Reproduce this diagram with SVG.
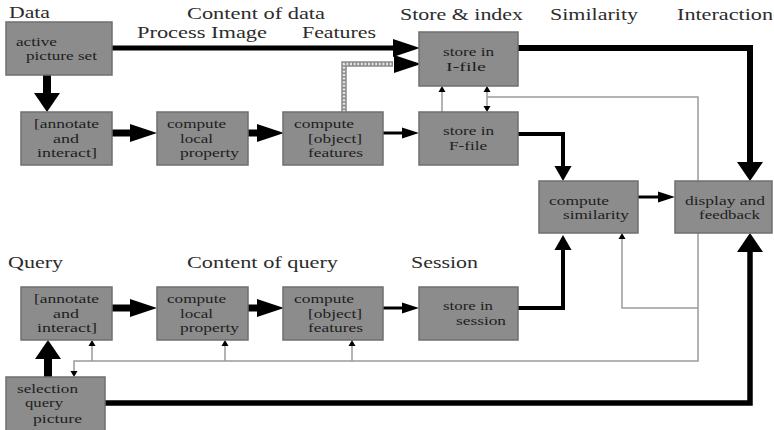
<svg xmlns="http://www.w3.org/2000/svg" width="774" height="430" viewBox="0 0 774 430">
<style>
.bg{fill:#ffffff}
.box{fill:#8c8c8c;stroke:#6f6f6f;stroke-width:1.5}
.hd{font-size:16px;fill:#2c2c2c}
.tx{font-size:13px;fill:#1e1e1e}
.k{fill:none;stroke:#000;stroke-linejoin:miter}
.g{fill:none;stroke:#9a9a9a;stroke-width:1.5}
</style>
<defs>
<marker id="bigh" markerUnits="userSpaceOnUse" markerWidth="27" markerHeight="18" refX="0" refY="9" orient="auto" overflow="visible"><path d="M0,0 L27,9 L0,18 z" fill="#000"/></marker>
<marker id="bigv" markerUnits="userSpaceOnUse" markerWidth="19" markerHeight="26" refX="0" refY="13" orient="auto" overflow="visible"><path d="M0,0 L19,13 L0,26 z" fill="#000"/></marker>
<marker id="med" markerUnits="userSpaceOnUse" markerWidth="15" markerHeight="17" refX="0" refY="8.5" orient="auto" overflow="visible"><path d="M0,0 L15,8.5 L0,17 z" fill="#000"/></marker>
<marker id="sm" markerUnits="userSpaceOnUse" markerWidth="17" markerHeight="11" refX="0" refY="5.5" orient="auto" overflow="visible"><path d="M0,0 L17,5.5 L0,11 z" fill="#000"/></marker>
<marker id="tiny" markerUnits="userSpaceOnUse" markerWidth="6" markerHeight="7" refX="0" refY="3.5" orient="auto-start-reverse" overflow="visible"><path d="M0,0 L6,3.5 L0,7 z" fill="#000"/></marker>
</defs>
<rect class="bg" x="0" y="0" width="774" height="430"/>

<g id="headers" font-family="Liberation Serif, Times New Roman, serif">
<text class="hd" x="9" y="18" textLength="41" lengthAdjust="spacingAndGlyphs">Data</text>
<text class="hd" x="187" y="19" textLength="138" lengthAdjust="spacingAndGlyphs">Content of data</text>
<text class="hd" x="137" y="38" textLength="130" lengthAdjust="spacingAndGlyphs">Process Image</text>
<text class="hd" x="302" y="38" textLength="74" lengthAdjust="spacingAndGlyphs">Features</text>
<text class="hd" x="400" y="20" textLength="123" lengthAdjust="spacingAndGlyphs">Store &amp; index</text>
<text class="hd" x="550" y="20" textLength="88" lengthAdjust="spacingAndGlyphs">Similarity</text>
<text class="hd" x="677" y="20" textLength="96" lengthAdjust="spacingAndGlyphs">Interaction</text>
<text class="hd" x="8" y="268" textLength="55" lengthAdjust="spacingAndGlyphs">Query</text>
<text class="hd" x="187" y="268" textLength="151" lengthAdjust="spacingAndGlyphs">Content of query</text>
<text class="hd" x="411" y="268" textLength="67" lengthAdjust="spacingAndGlyphs">Session</text>
</g>

<g id="connectors">
<path class="k" stroke-width="5" d="M112,48 H393" marker-end="url(#bigh)"/>
<path class="k" stroke-width="6" d="M518,48 H750 V162" marker-end="url(#bigv)"/>
<path class="k" stroke-width="8" d="M47,75 V93" marker-end="url(#bigv)"/>
<path class="k" stroke-width="7" d="M112,133 H130" marker-end="url(#bigh)"/>
<path class="k" stroke-width="7" d="M248,133 H257" marker-end="url(#bigh)"/>
<path class="k" stroke-width="3" d="M383,133 H402" marker-end="url(#sm)"/>
<path class="k" stroke-width="4" d="M518,134 H563 V166" marker-end="url(#med)"/>
<path class="k" stroke-width="3" d="M638,197 H658" marker-end="url(#sm)"/>
<path class="k" stroke-width="7" d="M112,308 H130" marker-end="url(#bigh)"/>
<path class="k" stroke-width="7" d="M248,308 H257" marker-end="url(#bigh)"/>
<path class="k" stroke-width="3" d="M383,308 H402" marker-end="url(#sm)"/>
<path class="k" stroke-width="4" d="M518,308 H563 V250" marker-end="url(#med)"/>
<path class="k" stroke-width="8" d="M48,377 V359" marker-end="url(#bigv)"/>
<path class="k" stroke-width="5.5" d="M105,403 H750 V252" marker-end="url(#bigv)"/>
<path d="M344,112 V64 H393" fill="none" stroke="#8a8a8a" stroke-width="5.5"/>
<path d="M344,112 V64 H393" fill="none" stroke="#e6e6e6" stroke-width="2.5" stroke-dasharray="2,1.6"/>
<path d="M393,64 H394" fill="none" stroke="none" marker-end="url(#bigh)"/>
<path class="g" d="M442,112 V92" marker-end="url(#tiny)"/>
<path class="g" d="M487,92 V106" marker-start="url(#tiny)" marker-end="url(#tiny)"/>
<path class="g" d="M487,97 H698 V181"/>
<path class="g" d="M698,233 V361 H74 V371" marker-end="url(#tiny)"/>
<path class="g" d="M698,308 H622 V239" marker-end="url(#tiny)"/>
<path class="g" d="M92,361 V346" marker-end="url(#tiny)"/>
<path class="g" d="M225,361 V346" marker-end="url(#tiny)"/>
<path class="g" d="M352,361 V346" marker-end="url(#tiny)"/>
</g>

<g id="nodes" font-family="Liberation Serif, Times New Roman, serif">
<g id="active-picture-set">
<rect class="box" x="6" y="22" width="106" height="53"/>
<text class="tx" x="16" y="46" textLength="41" lengthAdjust="spacingAndGlyphs">active</text>
<text class="tx" x="26" y="60" textLength="71" lengthAdjust="spacingAndGlyphs">picture set</text>
</g>
<g id="annotate-data">
<rect class="box" x="21" y="112" width="91" height="53"/>
<text class="tx" x="34" y="128" textLength="65" lengthAdjust="spacingAndGlyphs">[annotate</text>
<text class="tx" x="53" y="143" textLength="26" lengthAdjust="spacingAndGlyphs">and</text>
<text class="tx" x="37" y="157" textLength="60" lengthAdjust="spacingAndGlyphs">interact]</text>
</g>
<g id="local-data">
<rect class="box" x="157" y="112" width="91" height="53"/>
<text class="tx" x="167" y="128" textLength="59" lengthAdjust="spacingAndGlyphs">compute</text>
<text class="tx" x="180" y="143" textLength="33" lengthAdjust="spacingAndGlyphs">local</text>
<text class="tx" x="180" y="157" textLength="59" lengthAdjust="spacingAndGlyphs">property</text>
</g>
<g id="features-data">
<rect class="box" x="283" y="112" width="100" height="53"/>
<text class="tx" x="294" y="128" textLength="60" lengthAdjust="spacingAndGlyphs">compute</text>
<text class="tx" x="308" y="143" textLength="54" lengthAdjust="spacingAndGlyphs">[object]</text>
<text class="tx" x="308" y="157" textLength="55" lengthAdjust="spacingAndGlyphs">features</text>
</g>
<g id="i-file">
<rect class="box" x="419" y="32" width="99" height="54"/>
<text class="tx" x="443" y="56" textLength="51" lengthAdjust="spacingAndGlyphs">store in</text>
<text class="tx" x="446" y="71" textLength="40" lengthAdjust="spacingAndGlyphs">I-file</text>
</g>
<g id="f-file">
<rect class="box" x="419" y="112" width="99" height="53"/>
<text class="tx" x="443" y="135" textLength="51" lengthAdjust="spacingAndGlyphs">store in</text>
<text class="tx" x="449" y="150" textLength="38" lengthAdjust="spacingAndGlyphs">F-file</text>
</g>
<g id="compute-similarity">
<rect class="box" x="539" y="181" width="99" height="52"/>
<text class="tx" x="549" y="205" textLength="60" lengthAdjust="spacingAndGlyphs">compute</text>
<text class="tx" x="563" y="219" textLength="66" lengthAdjust="spacingAndGlyphs">similarity</text>
</g>
<g id="display-feedback">
<rect class="box" x="675" y="181" width="97" height="52"/>
<text class="tx" x="685" y="205" textLength="80" lengthAdjust="spacingAndGlyphs">display and</text>
<text class="tx" x="699" y="219" textLength="61" lengthAdjust="spacingAndGlyphs">feedback</text>
</g>
<g id="annotate-query">
<rect class="box" x="21" y="287" width="91" height="53"/>
<text class="tx" x="34" y="303" textLength="65" lengthAdjust="spacingAndGlyphs">[annotate</text>
<text class="tx" x="53" y="318" textLength="26" lengthAdjust="spacingAndGlyphs">and</text>
<text class="tx" x="37" y="332" textLength="60" lengthAdjust="spacingAndGlyphs">interact]</text>
</g>
<g id="local-query">
<rect class="box" x="157" y="287" width="91" height="53"/>
<text class="tx" x="167" y="303" textLength="59" lengthAdjust="spacingAndGlyphs">compute</text>
<text class="tx" x="180" y="318" textLength="33" lengthAdjust="spacingAndGlyphs">local</text>
<text class="tx" x="180" y="332" textLength="59" lengthAdjust="spacingAndGlyphs">property</text>
</g>
<g id="features-query">
<rect class="box" x="283" y="287" width="100" height="53"/>
<text class="tx" x="294" y="303" textLength="60" lengthAdjust="spacingAndGlyphs">compute</text>
<text class="tx" x="308" y="318" textLength="54" lengthAdjust="spacingAndGlyphs">[object]</text>
<text class="tx" x="308" y="332" textLength="55" lengthAdjust="spacingAndGlyphs">features</text>
</g>
<g id="session">
<rect class="box" x="419" y="287" width="99" height="53"/>
<text class="tx" x="443" y="310" textLength="50" lengthAdjust="spacingAndGlyphs">store in</text>
<text class="tx" x="456" y="325" textLength="50" lengthAdjust="spacingAndGlyphs">session</text>
</g>
<g id="selection-query-picture">
<rect class="box" x="6" y="377" width="99" height="56"/>
<text class="tx" x="17" y="393" textLength="61" lengthAdjust="spacingAndGlyphs">selection</text>
<text class="tx" x="25" y="407" textLength="38" lengthAdjust="spacingAndGlyphs">query</text>
<text class="tx" x="33" y="423" textLength="49" lengthAdjust="spacingAndGlyphs">picture</text>
</g>
</g>
</svg>
